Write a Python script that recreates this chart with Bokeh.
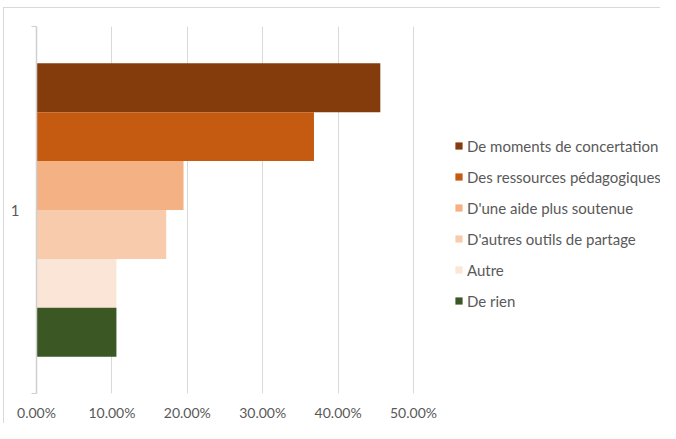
from bokeh.plotting import figure
from bokeh.models import (ColumnDataSource, Range1d, FixedTicker, NumeralTickFormatter,
                          Legend, LegendItem)
from bokeh.embed import file_html
from bokeh.resources import INLINE

categories = ["1"]
series = ["De moments de concertation", "Des ressources pédagogiques",
          "D'une aide plus soutenue", "D'autres outils de partage", "Autre", "De rien"]
values = [0.456, 0.368, 0.195, 0.172, 0.106, 0.106]
colors = ["#843C0C", "#C55A11", "#F4B183", "#F8CBAD", "#FBE5D6", "#3B5724"]
x_ticks = [0.0, 0.1, 0.2, 0.3, 0.4, 0.5]

FONT = "Lato"
TXT = "#595959"
GRID = "#D9D9D9"

W, H = 660, 423
LEFT, RIGHT = 36, 0
TOP, BOTTOM = 26, 28
AXIS_PX = 377            # pixels spanned by 0..50%
frame_w = W - LEFT - RIGHT
x_max = 0.5 * frame_w / AXIS_PX

p = figure(width=W, height=H, output_backend="svg", toolbar_location=None,
           x_range=Range1d(0, x_max), y_range=Range1d(0, 1),
           min_border_left=LEFT, min_border_right=RIGHT,
           min_border_top=TOP, min_border_bottom=BOTTOM)
p.outline_line_color = None
p.background_fill_color = "white"
p.border_fill_color = None
p.styles = {
    "background-color": "white",
    "box-shadow": ("inset 3px 0 0 white, inset 0 7px 0 white, "
                   "inset 4px 0 0 #D9D9D9, inset 0 8px 0 #D9D9D9"),
}

n = len(series)
group = 0.8
bh = group / n
renderers = []
for i, (s, v, c) in enumerate(zip(series, values, colors)):
    yc = 0.5 + group / 2 - (i + 0.5) * bh
    src = ColumnDataSource(dict(y=[yc], right=[v], cat=categories))
    r = p.hbar(y="y", right="right", left=0, height=bh, source=src,
               fill_color=c, line_color=None)
    renderers.append((s, r))

# x axis
p.xaxis.ticker = FixedTicker(ticks=x_ticks)
p.xaxis.formatter = NumeralTickFormatter(format="0.00%")
p.xaxis.axis_line_color = None
p.xaxis.major_tick_line_color = None
p.xaxis.minor_tick_line_color = None
p.xaxis.major_tick_out = 0
p.xaxis.major_label_standoff = 10
p.xaxis.major_label_text_font = FONT
p.xaxis.major_label_text_font_size = "14px"
p.xaxis.major_label_text_color = TXT

# y axis
p.yaxis.ticker = FixedTicker(ticks=[0.5], minor_ticks=[0, 1])
p.yaxis.major_label_overrides = {0.5: categories[0]}
p.yaxis.axis_line_color = "#CFCFCF"
p.yaxis.axis_line_width = 1.5
p.yaxis.major_tick_line_color = None
p.yaxis.major_tick_out = 0
p.yaxis.minor_tick_line_color = "#CFCFCF"
p.yaxis.minor_tick_out = 5
p.yaxis.minor_tick_in = 0
p.yaxis.major_label_standoff = 12
p.yaxis.major_label_text_font = FONT
p.yaxis.major_label_text_font_size = "15px"
p.yaxis.major_label_text_color = TXT

p.xgrid.grid_line_color = GRID
p.xgrid.grid_line_width = 1
p.ygrid.grid_line_color = None

legend = Legend(items=[LegendItem(label=s, renderers=[r]) for s, r in renderers],
                location=(418, 82),
                orientation="vertical",
                glyph_width=9, glyph_height=9, label_height=21, spacing=10,
                label_standoff=4, padding=0, margin=0,
                border_line_color=None, background_fill_alpha=0,
                label_text_font=FONT, label_text_font_size="15px",
                label_text_color=TXT)
p.add_layout(legend, "center")

open("out.html", "w").write(file_html(p, INLINE))
